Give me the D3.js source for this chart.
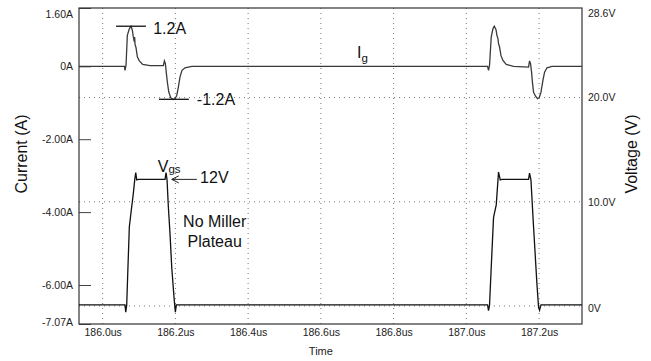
<!DOCTYPE html>
<html>
<head>
<meta charset="utf-8">
<script src="https://cdn.jsdelivr.net/npm/d3@7"></script>
<style>
	body { margin: 0; background: #fff; }
	svg { display: block; font-family: "Liberation Sans", Arial, sans-serif; }
	.tick text { fill: #222; font-size: 10.5px; }
	.grid { stroke: #777; stroke-width: 1; stroke-dasharray: 1,4; fill: none; }
	.ann { fill: #111; font-size: 16px; }
</style>
</head>
<body>
<svg id="chart" width="651" height="361"></svg>
<script>
// time axis (us)
var timeDomain = [185.935, 187.318];
var timeTicks = [186.0, 186.2, 186.4, 186.6, 186.8, 187.0, 187.2];
var timeLabels = ["186.0us", "186.2us", "186.4us", "186.6us", "186.8us", "187.0us", "187.2us"];

// left axis, gate current (A)
var currentDomain = [-7.07, 1.6];
var currentTicks = [1.6, 0, -2, -4, -6, -7.07];
var currentLabels = ["1.60A", "0A", "-2.00A", "-4.00A", "-6.00A", "-7.07A"];

// right axis, gate voltage (V)
var voltageDomain = [-1.73, 28.6];
var voltageTicks = [28.6, 20, 10, 0];
var voltageLabels = ["28.6V", "20.0V", "10.0V", "0V"];
var voltageGrid = [20, 10, 0];

// Ig trace
var igTime = [185.935, 186.060, 186.0615, 186.0643, 186.0679, 186.0734, 186.078, 186.0817, 186.0844, 186.0872, 186.0880, 186.0891,
	186.0918, 186.0954, 186.1009, 186.1102, 186.1303, 186.167, 186.1697, 186.1725, 186.1743, 186.1779, 186.1817, 186.1872,
	186.1944, 186.1991, 186.2037, 186.2082, 186.2128, 186.2183, 186.2266, 186.245,
	187.0583, 187.061, 187.0638, 187.0684, 187.0731, 187.0767, 187.0814, 187.0841, 187.0869, 187.0885, 187.0913, 187.0951,
	187.1006, 187.1097, 187.1298, 187.171, 187.1738, 187.1765, 187.1793, 187.182, 187.1848, 187.1903, 187.1958, 187.2005,
	187.2052, 187.2107, 187.2151, 187.2217, 187.2354, 187.318];
var igValue = [0, 0, -0.11, 0.03, 0.85, 1.03, 1.10, 0.99, 0.80, 0.67, 0.80, 0.60,
	0.51, 0.26, 0.15, 0.05, 0.02, 0.02, 0.15, 0.07, -0.11, -0.43, -0.70, -0.86,
	-0.91, -0.89, -0.80, -0.57, -0.29, -0.11, -0.04, 0,
	0, -0.11, 0.03, 0.80, 1.03, 1.10, 1.01, 0.85, 0.76, 0.62, 0.53, 0.30,
	0.16, 0.05, 0, -0.02, 0.15, 0.07, -0.16, -0.47, -0.71, -0.82, -0.89, -0.86,
	-0.71, -0.38, -0.16, -0.04, 0, 0];

// Vgs trace
var vgsTime = [185.935, 186.0615, 186.0635, 186.0662, 186.069, 186.0734, 186.0781, 186.0844, 186.0882, 186.091, 186.0937,
	186.0981, 186.1716, 186.1743, 186.1771, 186.1807, 186.1853, 186.19, 186.1963, 186.1999, 186.2027, 186.2129,
	187.0583, 187.061, 187.0638, 187.0684, 187.0748, 187.0822, 187.0885, 187.0932, 187.0979, 187.171, 187.1738,
	187.1776, 187.1848, 187.1941, 187.1985, 187.2013, 187.2052, 187.318];
var vgsValue = [0.1, 0.1, -0.6, 0.1, 3.1, 7.6, 9.0, 10.8, 12.1, 12.8, 12.1,
	12.15, 12.15, 12.8, 12.1, 9.5, 6.9, 3.7, 0.8, -0.6, 0.1, 0.1,
	0.1, -0.45, 0.1, 3.7, 8.5, 9.7, 12.85, 12.1, 12.15, 12.15, 12.75,
	12.1, 7.6, 2.1, -0.1, -0.4, 0.1, 0.1];

var svg = d3.select("#chart");
var margin = { top: 8, right: 69, bottom: 37, left: 79 },
	width = +svg.attr("width") - margin.left - margin.right,
	height = +svg.attr("height") - margin.top - margin.bottom;

var g = svg.append("g").attr("transform", "translate(" + margin.left + "," + margin.top + ")");

var x = d3.scaleLinear().domain(timeDomain).range([0, width]);
var yI = d3.scaleLinear().domain(currentDomain).range([height, 0]);
var yV = d3.scaleLinear().domain(voltageDomain).range([height, 0]);

// dotted grid
g.selectAll(".vgrid")
	.data(timeTicks)
	.enter().append("line")
	.attr("class", "grid")
	.attr("x1", function (d) { return x(d); })
	.attr("x2", function (d) { return x(d); })
	.attr("y1", 0)
	.attr("y2", height);

g.selectAll(".hgrid")
	.data(voltageGrid)
	.enter().append("line")
	.attr("class", "grid")
	.attr("x1", 0)
	.attr("x2", width)
	.attr("y1", function (d) { return yV(d); })
	.attr("y2", function (d) { return yV(d); });

// axes
var xAxis = g.append("g")
	.attr("transform", "translate(0," + height + ")")
	.call(d3.axisBottom(x).tickValues(timeTicks).tickSize(0).tickPadding(5)
		.tickFormat(function (d, i) { return timeLabels[i]; }));

var leftAxis = g.append("g")
	.call(d3.axisLeft(yI).tickValues(currentTicks).tickSize(-12).tickPadding(6)
		.tickFormat(function (d, i) { return currentLabels[i]; }));
leftAxis.selectAll(".tick line").attr("stroke", "#444");
leftAxis.selectAll(".tick text").attr("dy", function (d) {
	if (d === 1.6) return "0.95em";
	if (d === -7.07) return "0.15em";
	return "0.32em";
});

var rightAxis = g.append("g")
	.attr("transform", "translate(" + width + ",0)")
	.call(d3.axisRight(yV).tickValues(voltageTicks).tickSize(0).tickPadding(6)
		.tickFormat(function (d, i) { return voltageLabels[i]; }));
rightAxis.selectAll(".tick text").attr("dy", function (d) {
	if (d === 28.6) return "0.85em";
	if (d === 0) return "0.5em";
	return "0.32em";
});

svg.selectAll(".domain").remove();

// frame
g.append("rect")
	.attr("width", width)
	.attr("height", height)
	.attr("fill", "none")
	.attr("stroke", "#333")
	.attr("stroke-width", 1.2);

// traces
var igLine = d3.line()
	.x(function (d, i) { return x(igTime[i]); })
	.y(function (d) { return yI(d); });

var vgsLine = d3.line()
	.x(function (d, i) { return x(vgsTime[i]); })
	.y(function (d) { return yV(d); });

g.append("path")
	.datum(igValue)
	.attr("fill", "none")
	.attr("stroke", "#3a3a3a")
	.attr("stroke-width", 1.3)
	.attr("d", igLine);

g.append("path")
	.datum(vgsValue)
	.attr("fill", "none")
	.attr("stroke", "#111")
	.attr("stroke-width", 1.3)
	.attr("d", vgsLine);

// annotations
g.append("line")
	.attr("x1", x(186.037)).attr("x2", x(186.119))
	.attr("y1", yI(1.1)).attr("y2", yI(1.1))
	.attr("stroke", "#111").attr("stroke-width", 1.3);
g.append("text").attr("class", "ann")
	.attr("x", x(186.139)).attr("y", yI(1.1) + 7.5)
	.text("1.2A");

g.append("line")
	.attr("x1", x(186.155)).attr("x2", x(186.237))
	.attr("y1", yI(-0.905)).attr("y2", yI(-0.905))
	.attr("stroke", "#111").attr("stroke-width", 1.3);
g.append("text").attr("class", "ann")
	.attr("x", x(186.259)).attr("y", yI(-0.905) + 6)
	.text("-1.2A");

var ig = g.append("text").attr("class", "ann")
	.attr("x", x(186.6995)).attr("y", yI(0.22));
ig.append("tspan").text("I");
ig.append("tspan").attr("dy", 3.5).style("font-size", "11.5px").text("g");

var vgs = g.append("text").attr("class", "ann")
	.attr("x", x(186.1515)).attr("y", yV(12.9));
vgs.append("tspan").text("V");
vgs.append("tspan").attr("dy", 1.5).style("font-size", "11.5px").text("gs");

var arrowY = yV(12.15);
g.append("line")
	.attr("x1", x(186.190)).attr("x2", x(186.259))
	.attr("y1", arrowY).attr("y2", arrowY)
	.attr("stroke", "#222").attr("stroke-width", 1);
g.append("path")
	.attr("d", "M" + (x(186.190) + 7) + "," + (arrowY - 3.5) + "L" + x(186.190) + "," + arrowY + "L" + (x(186.190) + 7) + "," + (arrowY + 3.5))
	.attr("fill", "none").attr("stroke", "#222").attr("stroke-width", 1);
g.append("text").attr("class", "ann")
	.attr("x", x(186.268)).attr("y", arrowY + 3.5)
	.text("12V");

g.append("text").attr("class", "ann")
	.attr("x", x(186.308)).attr("y", 219.3)
	.attr("text-anchor", "middle")
	.text("No Miller");
g.append("text").attr("class", "ann")
	.attr("x", x(186.308)).attr("y", 239.3)
	.attr("text-anchor", "middle")
	.text("Plateau");

// axis titles
svg.append("text")
	.attr("transform", "translate(27,154) rotate(-90)")
	.attr("text-anchor", "middle")
	.style("font-size", "16px")
	.attr("fill", "#111")
	.text("Current (A)");

svg.append("text")
	.attr("transform", "translate(637,154) rotate(-90)")
	.attr("text-anchor", "middle")
	.style("font-size", "16px")
	.attr("fill", "#111")
	.text("Voltage (V)");

svg.append("text")
	.attr("x", margin.left + x(186.6))
	.attr("y", 355)
	.attr("text-anchor", "middle")
	.style("font-size", "11px")
	.attr("fill", "#222")
	.text("Time");
</script>
</body>
</html>
